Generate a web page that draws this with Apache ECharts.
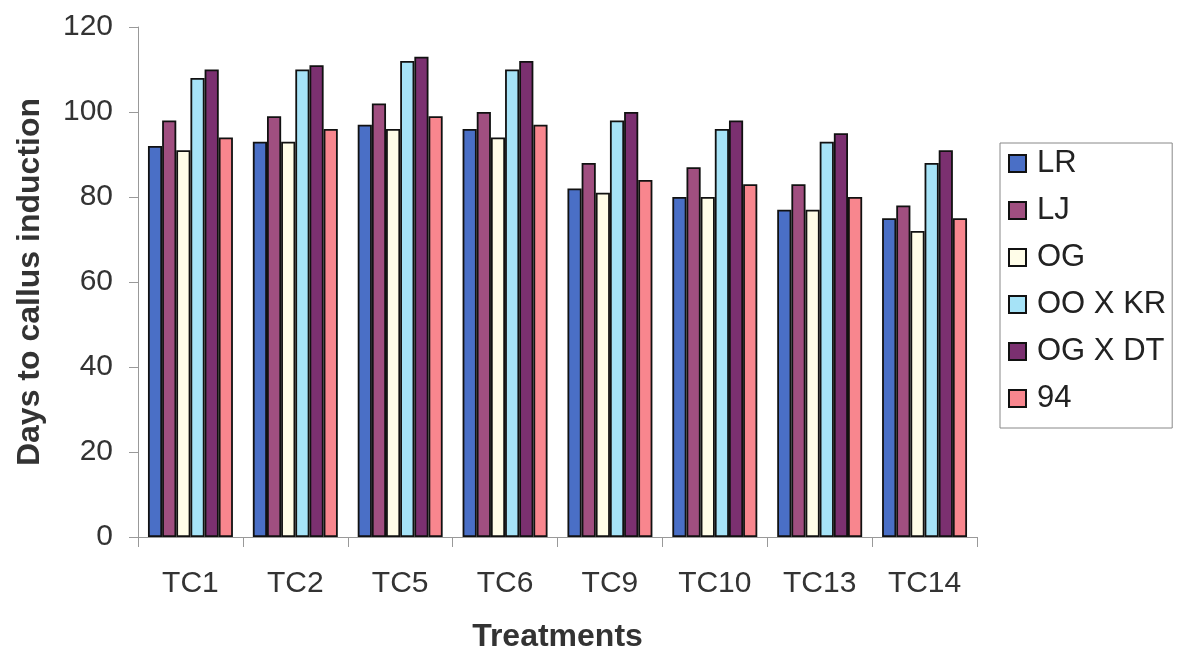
<!DOCTYPE html>
<html>
<head>
<meta charset="utf-8">
<script src="https://cdn.jsdelivr.net/npm/echarts@6/dist/echarts.min.js"></script>
<style>
html,body{margin:0;padding:0;background:#fff;}
#chart{width:1178px;height:655px;}
</style>
</head>
<body>
<div id="chart"></div>
<script>
const categories = ['TC1','TC2','TC5','TC6','TC9','TC10','TC13','TC14'];
const seriesNames = ['LR','LJ','OG','OO X KR','OG X DT','94'];
const LR     = [92, 93, 97, 96, 82, 80, 77, 75];
const LJ     = [98, 99, 102, 100, 88, 87, 83, 78];
const OG     = [91, 93, 96, 94, 81, 80, 77, 72];
const OOxKR  = [108, 110, 112, 110, 98, 96, 93, 88];
const OGxDT  = [110, 111, 113, 112, 100, 98, 95, 91];
const S94    = [94, 96, 99, 97, 84, 83, 80, 75];
const yTicks = [0, 20, 40, 60, 80, 100, 120];

const values = [LR, LJ, OG, OOxKR, OGxDT, S94];
const colors = ['#4a6fc6', '#a04f80', '#fffde8', '#a6e3f7', '#7b3070', '#f8868e'];
const font = 'Liberation Sans, Arial, Helvetica, sans-serif';

const chart = echarts.init(document.getElementById('chart'));
chart.setOption({
  animation: false,
  backgroundColor: '#fff',
  grid: { left: 138, right: 201, top: 27, bottom: 118, containLabel: false, outerBoundsMode: 'none' },
  legend: {
    orient: 'vertical',
    left: 1000,
    top: 143,
    padding: [5, 6, 14, 8],
    icon: 'rect',
    itemWidth: 17,
    itemHeight: 17,
    itemGap: 16,
    borderColor: '#888',
    borderWidth: 1,
    data: seriesNames,
    textStyle: { fontFamily: font, fontSize: 31, color: '#222', lineHeight: 30, padding: [0, 0, 0, 6] },
    itemStyle: { borderColor: '#111', borderWidth: 2 }
  },
  xAxis: {
    type: 'category',
    data: categories,
    name: 'Treatments',
    nameLocation: 'middle',
    nameGap: 84,
    nameTextStyle: { fontFamily: font, fontSize: 32, fontWeight: 'bold', color: '#333' },
    axisLine: { lineStyle: { color: '#999', width: 1 } },
    axisTick: { show: true, length: 10, alignWithLabel: false, lineStyle: { color: '#999' } },
    axisLabel: { fontFamily: font, fontSize: 30, color: '#333', margin: 32 }
  },
  yAxis: {
    type: 'value',
    min: 0,
    max: 120,
    interval: 20,
    name: 'Days to callus induction',
    nameLocation: 'middle',
    nameGap: 92,
    nameTextStyle: { fontFamily: font, fontSize: 32, fontWeight: 'bold', color: '#333' },
    axisLine: { show: true, lineStyle: { color: '#999', width: 1 } },
    axisTick: { show: true, length: 9, lineStyle: { color: '#999' } },
    splitLine: { show: false },
    axisLabel: {
      fontFamily: font, fontSize: 30, color: '#333', margin: 25,
      formatter: function (v) { return yTicks.indexOf(v) >= 0 ? String(v) : ''; }
    }
  },
  series: seriesNames.map(function (n, i) {
    return {
      name: n,
      type: 'bar',
      data: values[i],
      barGap: '0%',
      barCategoryGap: '19%',
      itemStyle: { color: colors[i], borderColor: '#111', borderWidth: 1.8 }
    };
  })
});
</script>
</body>
</html>
